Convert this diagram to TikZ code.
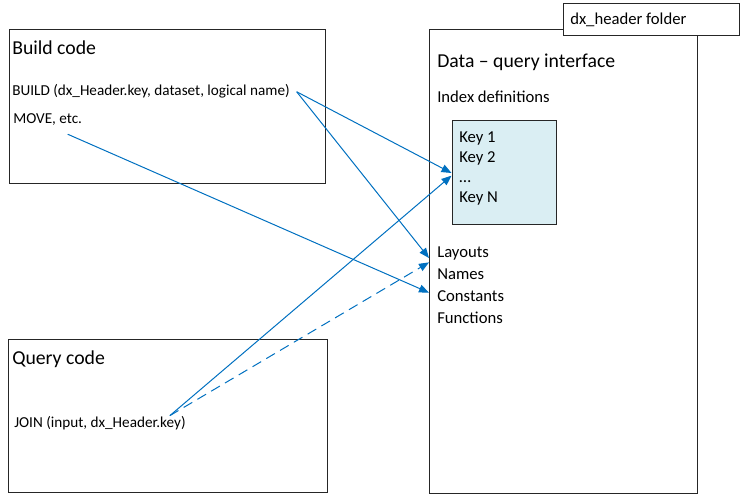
\documentclass[tikz,border=0pt]{standalone}
\usepackage{fontspec}
\setmainfont{Carlito}
\usetikzlibrary{arrows.meta,positioning}
\definecolor{linkblue}{RGB}{0,112,192}
\definecolor{keyfill}{RGB}{218,238,243}
\tikzset{
  box/.style={draw=black!85, line width=0.75pt},
  title/.style={anchor=base west, inner sep=0pt, font=\fontsize{14.8}{17}\selectfont},
  code/.style={anchor=base west, inner sep=0pt, font=\fontsize{11.4}{13}\selectfont},
  item/.style={anchor=base west, inner sep=0pt, font=\fontsize{12.5}{15}\selectfont},
  link/.style={draw=linkblue, line width=0.75pt, -{Triangle[length=7.5pt,width=6pt]}},
}
\begin{document}
\begin{tikzpicture}[x=0.75pt,y=-0.75pt]
    \useasboundingbox (0,0) rectangle (743,495);
    %% build code
    \draw[box] (9,30) rectangle (325,184);
    \node[title] (buildtitle) at (12,55) {Build code};
    \node[code] (buildcall) at (12,96) {BUILD (dx\_Header.key, dataset, logical name)};
    \node[code] (movecall) at (13,124) {MOVE, etc.};
    %% query code
    \draw[box] (8,340) rectangle (327,492);
    \node[title] (querytitle) at (12,364) {Query code};
    \node[code] (joincall) at (14,427) {JOIN (input, dx\_Header.key)};
    %% data - query interface
    \draw[box] (429,30) rectangle (697,493);
    \draw[box, fill=white] (563,4) rectangle (739,36);
    \node[item] (folder) at (570,25) {dx\_header folder};
    \node[title] (datatitle) at (437,68) {Data -- query interface};
    \node[item] (indexdefs) at (437,103) {Index definitions};
    \node[box, fill=keyfill, minimum width=78pt, minimum height=78pt] (keys) at (504,173) {};
    \foreach \k [count=\i] in {Key 1,Key 2,…,Key N}
        \node[item] at (459,123+20*\i) {\k};
    \foreach \nm/\txt/\y in {layouts/Layouts/258,names/Names/280,consts/Constants/302,funcs/Functions/324}
        \node[item] (\nm) at (437,\y) {\txt};
    %% links
    \draw[link] ([xshift=5pt]buildcall.east) -- (keys.west);
    \draw[link] ([xshift=5pt]buildcall.east) -- ([xshift=-6pt]layouts.base west);
    \draw[link] ([xshift=15pt,yshift=-6pt]movecall.south) -- ([xshift=-6pt,yshift=3pt]consts.west);
    \draw[link] ([xshift=-12pt]joincall.north east) -- ([yshift=-2pt]keys.west);
    \draw[link, dash pattern=on 7.5pt off 4.5pt] ([xshift=-12pt]joincall.north east) -- ([xshift=-6pt,yshift=5pt]names.north west);
\end{tikzpicture}
\end{document}
